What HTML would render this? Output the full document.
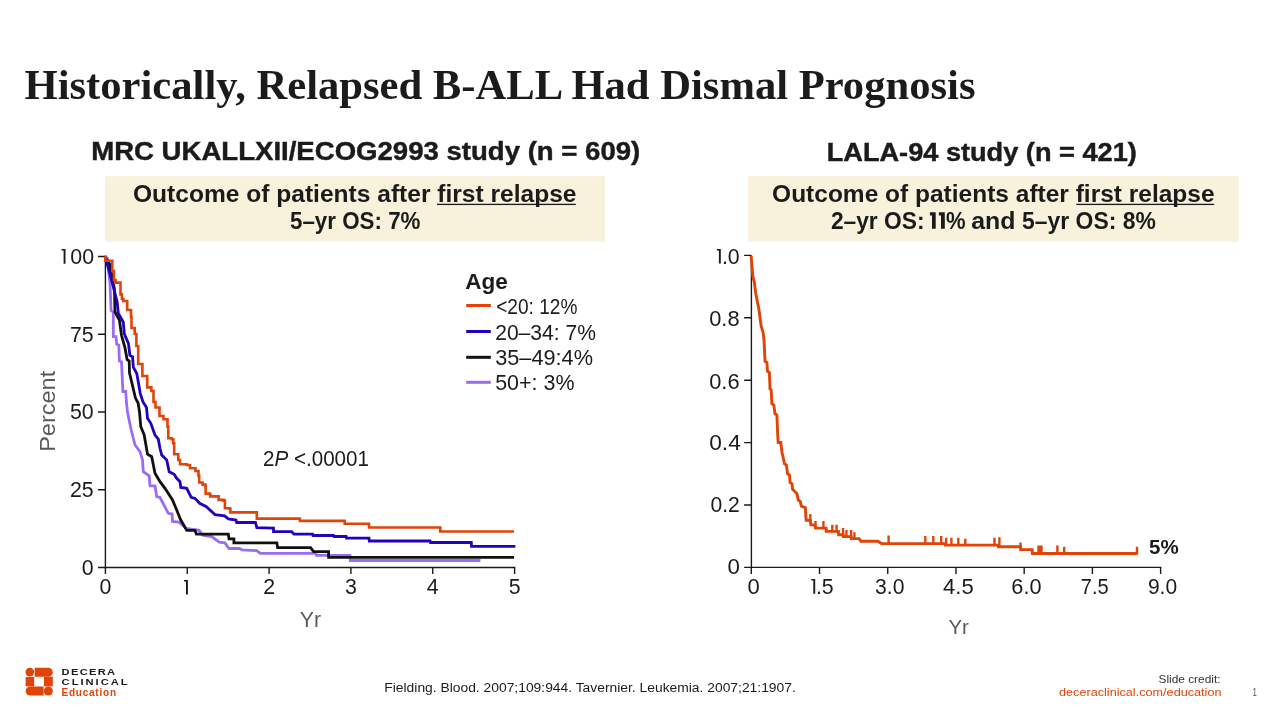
<!DOCTYPE html>
<html><head><meta charset="utf-8"><title>Historically, Relapsed B-ALL Had Dismal Prognosis</title>
<style>
html,body{margin:0;padding:0;background:#fff;}
body{width:1280px;height:720px;overflow:hidden;font-family:"Liberation Sans",sans-serif;}
svg{display:block;will-change:transform;}
</style></head>
<body>
<svg width="1280" height="720" viewBox="0 0 1280 720" font-family="&quot;Liberation Sans&quot;, sans-serif">
<rect width="1280" height="720" fill="#ffffff"/>
<text x="24.5" y="98.5" font-family="&quot;Liberation Serif&quot;, serif" font-weight="bold" font-size="43" fill="#1b1b1b" textLength="951" lengthAdjust="spacingAndGlyphs">Historically, Relapsed B-ALL Had Dismal Prognosis</text>
<text x="91.2" y="160.0" font-size="26" font-weight="bold" fill="#1b1b1b" text-anchor="start" textLength="549.1" lengthAdjust="spacingAndGlyphs" stroke="#1b1b1b" stroke-width="0.45">MRC UKALLXII/ECOG2993 study (n = 609)</text>
<text x="826.7" y="160.9" font-size="26" font-weight="bold" fill="#1b1b1b" text-anchor="start" textLength="310.1" lengthAdjust="spacingAndGlyphs" stroke="#1b1b1b" stroke-width="0.45">LALA-94 study (n = 421)</text>
<rect x="105" y="176.2" width="500" height="65.5" fill="#F8F2DC"/>
<rect x="748.1" y="176.1" width="490.8" height="65.6" fill="#F8F2DC"/>
<text x="133" y="201.7" font-size="23.8" font-weight="bold" fill="#1b1b1b" text-anchor="start" textLength="443.5" lengthAdjust="spacingAndGlyphs" >Outcome of patients after first relapse</text>
<rect x="437" y="203.75" width="138.8" height="1.3" fill="#1b1b1b"/>
<text x="290" y="228.6" font-size="23.8" font-weight="bold" fill="#1b1b1b" text-anchor="start" textLength="130.5" lengthAdjust="spacingAndGlyphs" >5–yr OS: 7%</text>
<text x="772.1" y="201.7" font-size="23.8" font-weight="bold" fill="#1b1b1b" text-anchor="start" textLength="442.5" lengthAdjust="spacingAndGlyphs" >Outcome of patients after first relapse</text>
<rect x="1076.3" y="203.75" width="137.9" height="1.3" fill="#1b1b1b"/>
<text x="830.9" y="228.7" font-size="23.8" font-weight="bold" fill="#1b1b1b" text-anchor="start" textLength="93.6" lengthAdjust="spacingAndGlyphs" >2–yr OS:</text>
<text x="946.1" y="228.7" font-size="23.8" font-weight="bold" fill="#1b1b1b" text-anchor="start" textLength="19.6" lengthAdjust="spacingAndGlyphs" >%</text>
<text x="971.3" y="228.7" font-size="23.8" font-weight="bold" fill="#1b1b1b" text-anchor="start" textLength="44.2" lengthAdjust="spacingAndGlyphs" >and</text>
<text x="1022.1" y="228.7" font-size="23.8" font-weight="bold" fill="#1b1b1b" text-anchor="start" textLength="133.7" lengthAdjust="spacingAndGlyphs" >5–yr OS: 8%</text>
<path d="M929.90 212.30 H935.70 V228.70 H932.00 V215.50 H929.90 Z" fill="#1b1b1b"/>
<path d="M938.90 212.30 H944.80 V228.70 H941.00 V215.50 H938.90 Z" fill="#1b1b1b"/>
<path d="M105.4 256.4 V567.5 H515.3" fill="none" stroke="#1a1a1a" stroke-width="1.4"/>
<path d="M98 567.50 H105.4 M98 489.75 H105.4 M98 412.00 H105.4 M98 334.25 H105.4 M98 256.50 H105.4 M105.40 567.5 V574 M187.24 567.5 V574 M269.08 567.5 V574 M350.92 567.5 V574 M432.76 567.5 V574 M514.60 567.5 V574 " fill="none" stroke="#1a1a1a" stroke-width="1.4"/>
<text x="93.7" y="574.8" font-size="21.33" font-weight="normal" fill="#1b1b1b" text-anchor="end" >0</text>
<text x="93.7" y="497.05" font-size="21.33" font-weight="normal" fill="#1b1b1b" text-anchor="end" >25</text>
<text x="93.7" y="419.3" font-size="21.33" font-weight="normal" fill="#1b1b1b" text-anchor="end" >50</text>
<text x="93.7" y="341.55" font-size="21.33" font-weight="normal" fill="#1b1b1b" text-anchor="end" >75</text>
<path d="M61.60 249.10 H65.50 V263.80 H63.60 V250.60 H61.60 Z" fill="#1b1b1b"/>
<text x="94.0" y="263.8" font-size="21.33" font-weight="normal" fill="#1b1b1b" text-anchor="end" >00</text>
<text x="105.4" y="594.2" font-size="21.33" font-weight="normal" fill="#1b1b1b" text-anchor="middle" >0</text>
<path d="M184.00 580.00 H187.90 V594.60 H186.00 V581.50 H184.00 Z" fill="#1b1b1b"/>
<text x="269.08" y="594.2" font-size="21.33" font-weight="normal" fill="#1b1b1b" text-anchor="middle" >2</text>
<text x="350.92" y="594.2" font-size="21.33" font-weight="normal" fill="#1b1b1b" text-anchor="middle" >3</text>
<text x="432.76" y="594.2" font-size="21.33" font-weight="normal" fill="#1b1b1b" text-anchor="middle" >4</text>
<text x="514.6" y="594.2" font-size="21.33" font-weight="normal" fill="#1b1b1b" text-anchor="middle" >5</text>
<text transform="translate(55,411.3) rotate(-90)" x="-40.5" y="0" font-size="21.33" fill="#595959" textLength="81" lengthAdjust="spacingAndGlyphs">Percent</text>
<text x="310.5" y="626.7" font-size="21.33" font-weight="normal" fill="#595959" text-anchor="middle" >Yr</text>
<text x="263" y="466.4" font-size="21.33" fill="#1b1b1b" textLength="106" lengthAdjust="spacingAndGlyphs">2<tspan font-style="italic">P</tspan> &lt;.00001</text>
<text x="465.3" y="288.9" font-size="22" font-weight="bold" fill="#1b1b1b" text-anchor="start" textLength="42.5" lengthAdjust="spacingAndGlyphs" >Age</text>
<path d="M466.2 305.5 H490.8" stroke="#E04408" stroke-width="3"/>
<text x="496.2" y="313.6" font-size="21.2" font-weight="normal" fill="#1b1b1b" text-anchor="start" textLength="81.2" lengthAdjust="spacingAndGlyphs" >&lt;20: 12%</text>
<path d="M466.2 331.5 H490.8" stroke="#2300BE" stroke-width="3"/>
<text x="495.2" y="339.6" font-size="21.2" font-weight="normal" fill="#1b1b1b" text-anchor="start" textLength="100.7" lengthAdjust="spacingAndGlyphs" >20–34: 7%</text>
<path d="M466.2 357.3 H490.8" stroke="#111111" stroke-width="3"/>
<text x="495.2" y="365.4" font-size="21.2" font-weight="normal" fill="#1b1b1b" text-anchor="start" textLength="97.8" lengthAdjust="spacingAndGlyphs" >35–49:4%</text>
<path d="M466.2 382.3 H490.8" stroke="#9B6CF2" stroke-width="3"/>
<text x="495.2" y="390.4" font-size="21.2" font-weight="normal" fill="#1b1b1b" text-anchor="start" textLength="79.3" lengthAdjust="spacingAndGlyphs" >50+: 3%</text>
<path d="M105.5 256.5 L107.2 258.0 L110.0 283.3 L111.1 310.6 L113.3 312.2 L113.3 336.7 L116.0 336.7 L116.7 344.3 L118.8 345.0 L119.4 361.0 L121.5 361.7 L122.9 391.5 L125.7 391.5 L126.4 402.0 L127.5 412.0 L130.8 428.3 L135.0 445.0 L140.0 451.7 L142.5 460.0 L143.3 471.7 L149.2 475.8 L150.0 485.8 L155.0 485.8 L156.7 496.7 L160.0 497.5 L168.3 513.3 L172.1 514.0 L172.5 521.4 L179.0 522.0 L186.0 528.3 L199.2 530.4 L202.6 535.3 L211.7 536.7 L219.3 542.2 L224.9 542.9 L229.0 548.5 L239.4 548.5 L242.2 549.9 L256.8 550.6 L260.3 553.4 L316.0 553.4 L316.5 555.4 L350.0 555.4 L350.3 560.5 L480.4 560.5" fill="none" stroke="#9B6CF2" stroke-width="2.8" stroke-linejoin="miter" stroke-linecap="butt"/>
<path d="M105.5 258.0 L109.7 264.0 L114.4 288.9 L115.0 312.2 L119.4 320.0 L121.5 335.3 L125.0 347.8 L127.1 359.6 L129.2 361.0 L129.5 372.8 L135.4 397.8 L138.2 403.3 L139.5 412.0 L140.8 426.7 L144.2 435.0 L147.5 454.2 L151.7 456.7 L155.0 473.3 L160.0 481.7 L165.0 488.3 L172.5 500.0 L176.7 510.0 L180.4 519.3 L186.7 530.4 L195.0 530.4 L196.4 534.2 L228.3 534.2 L229.0 538.8 L233.9 538.8 L233.9 542.9 L276.9 542.9 L277.6 547.7 L310.6 547.7 L313.6 551.6 L328.6 551.6 L328.6 557.4 L514.1 557.4" fill="none" stroke="#111111" stroke-width="2.8" stroke-linejoin="miter" stroke-linecap="butt"/>
<path d="M105.5 258.0 L106.7 262.2 L111.0 277.8 L117.2 302.2 L118.3 313.3 L123.3 322.2 L124.3 333.9 L128.5 343.6 L129.9 355.4 L132.6 356.8 L133.3 367.2 L136.8 373.5 L140.3 393.6 L143.0 402.0 L146.5 407.5 L147.5 418.3 L150.8 423.3 L155.0 435.0 L158.3 439.2 L160.0 448.3 L161.7 455.0 L166.7 460.0 L169.2 471.7 L174.2 474.2 L176.7 478.3 L180.0 481.7 L180.8 487.5 L186.7 488.3 L191.2 497.3 L195.0 498.4 L199.6 503.3 L206.0 506.4 L215.0 514.6 L224.6 515.8 L228.3 518.8 L236.0 520.0 L236.7 522.5 L255.4 522.5 L256.8 527.6 L273.5 528.0 L273.5 531.7 L291.7 531.7 L294.0 534.2 L312.6 534.2 L313.0 535.5 L333.5 535.5 L334.0 536.5 L346.1 536.5 L346.5 538.2 L369.0 538.2 L369.3 541.0 L430.1 541.0 L430.5 542.5 L471.3 542.5 L471.5 546.4 L515.4 546.4" fill="none" stroke="#2300BE" stroke-width="2.8" stroke-linejoin="miter" stroke-linecap="butt"/>
<path d="M104.6 256.5 L105.3 256.5 L105.3 260.8 L112.3 260.8 L112.3 271.0 L114.0 271.0 L114.0 280.0 L115.6 280.0 L115.6 282.6 L120.5 282.6 L120.5 294.4 L121.9 294.4 L121.9 299.0 L123.3 299.0 L123.3 301.0 L127.2 301.0 L127.2 310.0 L131.0 310.0 L131.0 317.0 L131.5 317.0 L131.5 328.0 L134.7 328.0 L134.7 334.0 L136.4 334.0 L136.4 346.0 L138.2 346.0 L138.2 364.0 L142.4 364.0 L142.4 376.0 L147.2 376.0 L147.2 387.4 L151.4 387.4 L151.4 391.0 L153.5 391.0 L153.5 402.0 L155.5 402.0 L155.5 407.5 L159.5 407.5 L159.5 416.0 L163.5 416.0 L163.5 419.2 L167.5 419.2 L167.5 426.7 L168.3 426.7 L168.3 438.3 L171.7 438.3 L171.7 439.2 L173.3 439.2 L173.3 443.3 L174.2 443.3 L174.2 454.2 L178.3 454.2 L178.3 460.0 L180.0 460.0 L180.0 464.2 L186.7 464.2 L186.7 465.0 L190.0 465.0 L190.0 468.3 L195.5 468.3 L195.5 471.0 L198.5 471.0 L198.5 475.6 L199.2 475.6 L199.2 482.5 L202.6 482.5 L202.6 484.6 L205.4 484.6 L205.4 486.0 L205.6 486.0 L205.6 493.6 L209.6 493.6 L209.6 494.3 L210.3 494.3 L210.3 496.4 L218.6 496.4 L218.6 499.9 L223.5 499.9 L223.5 500.6 L224.9 500.6 L224.9 508.2 L229.7 508.2 L229.7 508.9 L230.4 508.9 L230.4 512.4 L256.8 512.4 L256.8 518.6 L299.9 518.6 L299.9 520.9 L344.7 520.9 L344.7 523.8 L369.0 523.8 L369.0 527.5 L440.3 527.5 L440.3 531.5 L514.1 531.5" fill="none" stroke="#E04408" stroke-width="2.6" stroke-linejoin="miter" stroke-linecap="butt"/>
<path d="M751.4 255.4 V567.4 H1161.4" fill="none" stroke="#1a1a1a" stroke-width="1.4"/>
<path d="M744.1 567.40 H751.4 M744.1 505.00 H751.4 M744.1 442.60 H751.4 M744.1 380.20 H751.4 M744.1 317.80 H751.4 M744.1 255.40 H751.4 M751.30 567.4 V574 M819.52 567.4 V574 M887.74 567.4 V574 M955.96 567.4 V574 M1024.18 567.4 V574 M1092.40 567.4 V574 M1160.62 567.4 V574 " fill="none" stroke="#1a1a1a" stroke-width="1.4"/>
<text x="727.5" y="573.7" font-size="21.3" font-weight="normal" fill="#1b1b1b" text-anchor="start" textLength="12.4" lengthAdjust="spacingAndGlyphs" >0</text>
<text x="710.45" y="511.7" font-size="21.3" font-weight="normal" fill="#1b1b1b" text-anchor="start" textLength="29.35" lengthAdjust="spacingAndGlyphs" >0.2</text>
<text x="709.2" y="449.7" font-size="21.3" font-weight="normal" fill="#1b1b1b" text-anchor="start" textLength="31.6" lengthAdjust="spacingAndGlyphs" >0.4</text>
<text x="709.2" y="388.6" font-size="21.3" font-weight="normal" fill="#1b1b1b" text-anchor="start" textLength="30.35" lengthAdjust="spacingAndGlyphs" >0.6</text>
<text x="709.2" y="326.1" font-size="21.3" font-weight="normal" fill="#1b1b1b" text-anchor="start" textLength="30.35" lengthAdjust="spacingAndGlyphs" >0.8</text>
<path d="M716.90 248.90 H720.80 V263.60 H718.90 V250.40 H716.90 Z" fill="#1b1b1b"/>
<text x="739.7" y="263.6" font-size="21.3" font-weight="normal" fill="#1b1b1b" text-anchor="end" >.0</text>
<text x="747.45" y="593.8" font-size="21.3" font-weight="normal" fill="#1b1b1b" text-anchor="start" textLength="12.25" lengthAdjust="spacingAndGlyphs" >0</text>
<path d="M811.30 579.10 H815.20 V593.80 H813.30 V580.60 H811.30 Z" fill="#1b1b1b"/>
<text x="833.7" y="593.8" font-size="21.3" font-weight="normal" fill="#1b1b1b" text-anchor="end" >.5</text>
<text x="875.0" y="593.8" font-size="21.3" font-weight="normal" fill="#1b1b1b" text-anchor="start" textLength="29.4" lengthAdjust="spacingAndGlyphs" >3.0</text>
<text x="943.1" y="593.8" font-size="21.3" font-weight="normal" fill="#1b1b1b" text-anchor="start" textLength="30.6" lengthAdjust="spacingAndGlyphs" >4.5</text>
<text x="1011.3" y="593.8" font-size="21.3" font-weight="normal" fill="#1b1b1b" text-anchor="start" textLength="30.2" lengthAdjust="spacingAndGlyphs" >6.0</text>
<text x="1080.8" y="593.8" font-size="21.3" font-weight="normal" fill="#1b1b1b" text-anchor="start" textLength="27.9" lengthAdjust="spacingAndGlyphs" >7.5</text>
<text x="1147.9" y="593.8" font-size="21.3" font-weight="normal" fill="#1b1b1b" text-anchor="start" textLength="29.2" lengthAdjust="spacingAndGlyphs" >9.0</text>
<text x="958.7" y="633.8" font-size="20.5" font-weight="normal" fill="#595959" text-anchor="middle" >Yr</text>
<text x="1149" y="553.9" font-size="20.5" font-weight="bold" fill="#1b1b1b" text-anchor="start" >5%</text>
<path d="M751.1 255.8 L751.2 257.0 L751.9 265.0 L752.8 276.2 L754.4 282.5 L755.6 292.5 L757.5 302.5 L758.8 308.8 L760.0 317.5 L761.2 326.2 L763.1 332.5 L764.0 340.0 L764.4 347.5 L765.0 361.2 L766.9 362.5 L767.5 371.2 L769.4 372.5 L770.0 388.8 L771.2 390.0 L771.9 403.8 L773.8 405.0 L775.0 413.8 L776.9 415.0 L777.3 425.0 L777.6 432.5 L778.2 442.5 L780.8 442.5 L782.0 452.5 L783.2 457.5 L784.5 463.8 L786.4 465.0 L787.6 473.8 L789.5 475.0 L790.1 482.5 L792.0 483.8 L792.6 489.4 L794.5 491.2 L797.0 493.8 L798.2 500.0 L800.1 501.2 L801.4 506.2 L804.5 507.5 L805.4 507.8 L806.1 520.2 L810.3 520.2 L810.8 524.8 L815.0 525.3 L815.5 528.1 L826.2 528.1 L826.2 531.4 L838.4 531.4 L838.6 534.7 L843.1 534.7 L843.3 536.6 L851.1 536.6 L851.3 538.6 L859.1 538.6 L860.9 541.2 L877.8 541.2 L881.6 543.6 L945.0 543.6 L945.3 545.1 L998.0 545.1 L998.3 546.7 L1020.5 546.7 L1020.7 549.6 L1032.2 549.6 L1032.4 553.5 L1137.1 553.5" fill="none" stroke="#E04408" stroke-width="2.9"/>
<path d="M810.3 514.0 V521.2 M815.5 521.1 V529.1 M823.4 521.1 V529.1 M832.3 524.8 V532.4 M836.6 524.8 V532.4 M843.1 528.1 V535.7 M846.4 530.0 V537.6 M851.1 530.0 V537.6 M854.4 532.3 V539.6 M888.6 535.6 V544.6 M925.3 536.0 V544.6 M933.3 536.0 V544.6 M941.2 536.0 V544.6 M946.2 537.8 V546.1 M951.4 537.8 V546.1 M958.3 537.8 V546.1 M965.3 538.8 V546.1 M994.5 537.8 V546.1 M999.4 537.3 V547.7 M1020.5 542.6 V547.7 M1038.5 545.5 V554.5 M1040.2 545.5 V554.5 M1041.5 545.5 V554.5 M1057.4 545.5 V554.5 M1064.2 546.7 V554.5 M1137.0 546.7 V554.5 " fill="none" stroke="#E04408" stroke-width="2.4"/>
<g fill="#E04408">
<circle cx="29.8" cy="672.1" r="4.3"/>
<path d="M34.7 667.8 H48.3 A4.45 4.45 0 0 1 48.3 676.7 H34.7 Z"/>
<rect x="25.6" y="677" width="8.6" height="9.4"/>
<rect x="43.9" y="676.7" width="8.9" height="9.7"/>
<path d="M43.6 686.4 V695.6 H30.2 A4.6 4.6 0 0 1 30.2 686.4 Z"/>
<circle cx="48.3" cy="691" r="4.55"/>
</g>
<g transform="translate(61.6,0) scale(1.2,1)"><text x="0" y="674.8" font-size="9.3" font-weight="bold" fill="#1b1b1b" text-anchor="start" textLength="44.58" lengthAdjust="spacing" >DECERA</text>
</g><g transform="translate(61.6,0) scale(1.2,1)"><text x="0" y="685.3" font-size="9.3" font-weight="bold" fill="#1b1b1b" text-anchor="start" textLength="55.0" lengthAdjust="spacing" >CLINICAL</text>
</g><text x="61.5" y="695.7" font-size="10" font-weight="bold" fill="#E04408" text-anchor="start" textLength="54.5" lengthAdjust="spacing" >Education</text>
<text x="384.3" y="691.8" font-size="12.5" font-weight="normal" fill="#1b1b1b" text-anchor="start" textLength="411.5" lengthAdjust="spacingAndGlyphs" >Fielding. Blood. 2007;109:944. Tavernier. Leukemia. 2007;21:1907.</text>
<text x="1220.5" y="683.1" font-size="11.5" font-weight="normal" fill="#333" text-anchor="end" textLength="62" lengthAdjust="spacingAndGlyphs" >Slide credit:</text>
<text x="1221.5" y="696" font-size="11.3" font-weight="normal" fill="#E04408" text-anchor="end" textLength="162.5" lengthAdjust="spacingAndGlyphs" >deceraclinical.com/education</text>
<text x="1252.5" y="696" font-size="11" font-weight="normal" fill="#555" text-anchor="start" textLength="4.4" lengthAdjust="spacingAndGlyphs" >1</text>
</svg>
</body></html>
